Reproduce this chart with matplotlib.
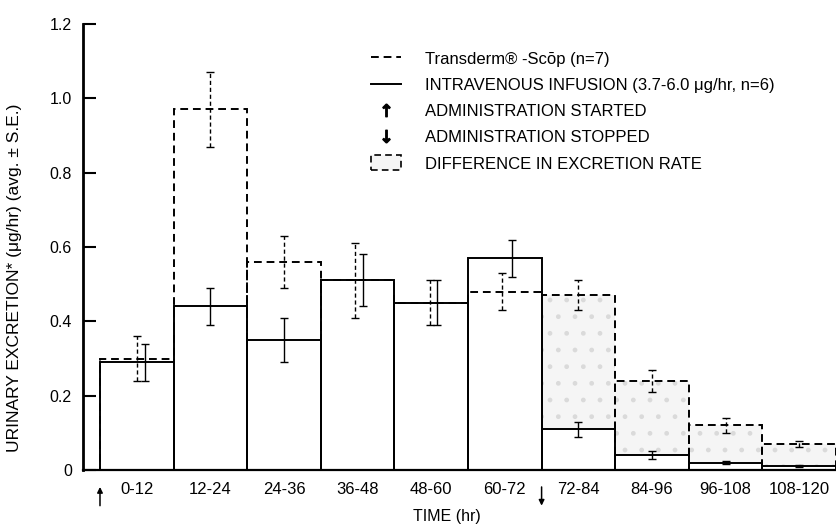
import matplotlib
matplotlib.use("Agg")
import matplotlib.pyplot as plt
from matplotlib.lines import Line2D
from matplotlib.patches import Patch

plt.rcParams['font.family'] = ['Liberation Sans', 'DejaVu Sans']

# time intervals (hr)
starts = [0, 12, 24, 36, 48, 60, 72, 84, 96, 108]
labels = ['0-12', '12-24', '24-36', '36-48', '48-60', '60-72',
          '72-84', '84-96', '96-108', '108-120']

# Transderm-Scop (dashed)
tds = [0.30, 0.97, 0.56, 0.51, 0.45, 0.48, 0.47, 0.24, 0.12, 0.07]
tds_se = [0.06, 0.10, 0.07, 0.10, 0.06, 0.05, 0.04, 0.03, 0.02, 0.008]

# intravenous infusion (solid)
iv = [0.29, 0.44, 0.35, 0.51, 0.45, 0.57, 0.11, 0.04, 0.02, 0.01]
iv_se = [0.05, 0.05, 0.06, 0.07, 0.06, 0.05, 0.02, 0.01, 0.003, 0.003]

# administration started / stopped (hr)
admin_start = 0
admin_stop = 72

W = 12
# small sideways shift of error bars where the two overlap
dx_tds = [0, 0, 0, -0.4, -0.2, -0.5, 0, 0, 0, 0]
dx_iv = [1.35, 0, 0, 0.9, 1.0, 1.2, 0, 0, 0, 0]

DASH = (0, (4, 2.5))
FILL = '#f5f5f5'

fig = plt.figure(figsize=(8.36, 5.25), dpi=100)
ax = fig.add_axes([83 / 836, 1 - 470 / 525, 1 - 83 / 836, (470 - 24) / 525])

# shaded difference after administration stopped
diff_idx = [i for i, s in enumerate(starts) if s >= admin_stop]
ax.bar([starts[i] for i in diff_idx], [tds[i] - iv[i] for i in diff_idx],
       bottom=[iv[i] for i in diff_idx], width=W, align='edge',
       facecolor=FILL, edgecolor='#dadada', hatch='.', linewidth=0, zorder=1)

ax.bar(starts, tds, width=W, align='edge', fill=False, edgecolor='black',
       linestyle=DASH, linewidth=1.4, zorder=2)
ax.bar(starts, iv, width=W, align='edge', fill=False, edgecolor='black',
       linestyle='-', linewidth=1.4, zorder=3)

cen = [s + W / 2 for s in starts]
eb = ax.errorbar([c + d for c, d in zip(cen, dx_tds)], tds, yerr=tds_se,
                 fmt='none', ecolor='black', elinewidth=1.0, capsize=3.2,
                 capthick=1.0, zorder=4)
eb[2][0].set_linestyle((0, (3, 2)))
ax.errorbar([c + d for c, d in zip(cen, dx_iv)], iv, yerr=iv_se,
            fmt='none', ecolor='black', elinewidth=1.0, capsize=3.2,
            capthick=1.0, zorder=4)

ax.set_xlim(-2.77, 120)
ax.set_ylim(0, 1.2)
ax.set_yticks([0, 0.2, 0.4, 0.6, 0.8, 1.0, 1.2])
ax.set_yticklabels(['0', '0.2', '0.4', '0.6', '0.8', '1.0', '1.2'])
ax.set_xticks(cen)
ax.set_xticklabels(labels)
ax.tick_params(axis='y', direction='in', length=9, width=1.5, pad=8, labelsize=11.5)
ax.tick_params(axis='x', length=0, pad=9, labelsize=12)
for side in ['top', 'right']:
    ax.spines[side].set_visible(False)
ax.spines['left'].set_linewidth(2.0)
ax.spines['bottom'].set_linewidth(1.6)

# start / stop arrows under the axis
for t, up in [(admin_start, True), (admin_stop, False)]:
    y0, y1 = (-0.080, -0.038) if up else (-0.038, -0.080)
    ax.annotate('', xy=(t, y1), xytext=(t, y0),
                xycoords=('data', 'axes fraction'),
                textcoords=('data', 'axes fraction'),
                arrowprops=dict(arrowstyle='-|>', lw=1.1, color='black',
                                mutation_scale=8, shrinkA=0, shrinkB=0),
                annotation_clip=False)

ax.set_xlabel('TIME (hr)', fontsize=11.5)
ax.xaxis.set_label_coords((447 - 83) / 753, -(509 - 470) / 446)
fig.text(15 / 836, 1 - 278 / 525,
         'URINARY EXCRETION* (\u03bcg/hr) (avg. \u00b1 S.E.)',
         rotation=90, va='center', ha='center', fontsize=12.5)

handles = [
    Line2D([], [], color='black', linestyle=DASH, linewidth=1.4),
    Line2D([], [], color='black', linestyle='-', linewidth=1.4),
    Line2D([], [], color='black', linestyle='none', marker=r'$\uparrow$', markersize=9),
    Line2D([], [], color='black', linestyle='none', marker=r'$\downarrow$', markersize=9),
    Patch(facecolor=FILL, edgecolor='black', linestyle=DASH, linewidth=1.2),
]
texts = [
    'Transderm\u00ae -Sc\u014dp (n=7)',
    'INTRAVENOUS INFUSION (3.7-6.0 \u03bcg/hr, n=6)',
    'ADMINISTRATION STARTED',
    'ADMINISTRATION STOPPED',
    'DIFFERENCE IN EXCRETION RATE',
]
ax.legend(handles, texts, loc='upper left', bbox_to_anchor=(0.383, 0.94),
          frameon=False, fontsize=12, handlelength=1.8, handleheight=1.0,
          handletextpad=1.4, labelspacing=0.6, borderpad=0, borderaxespad=0)

fig.savefig('out.png', dpi=100)
